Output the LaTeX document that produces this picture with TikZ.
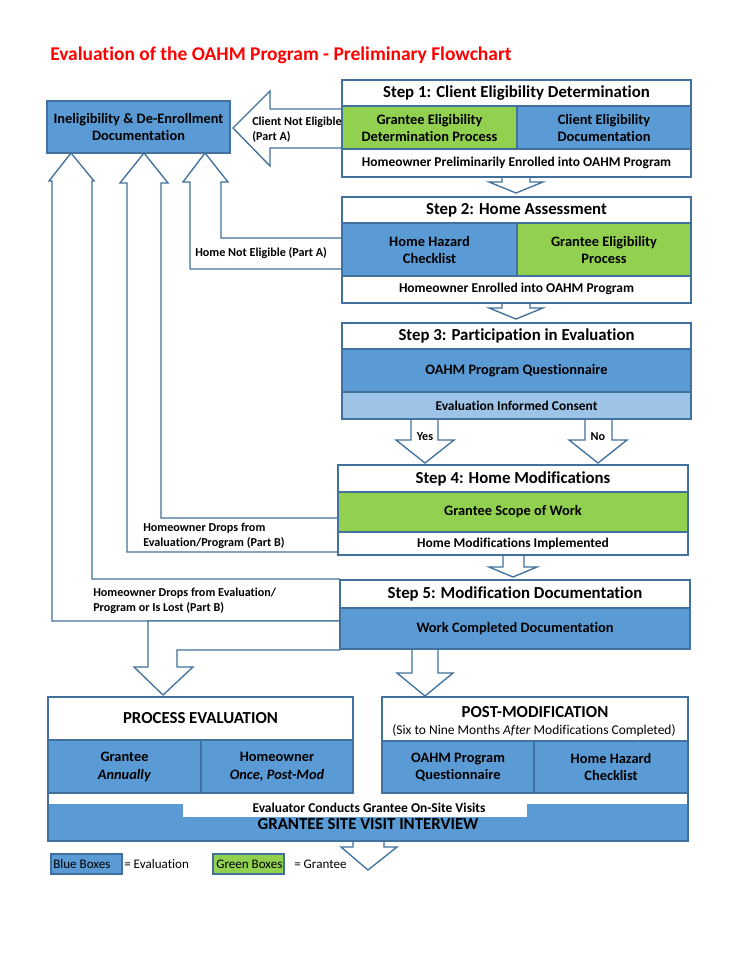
\documentclass[tikz,border=0pt]{standalone}
\usepackage{fontspec}
\setmainfont{Carlito}[Ligatures=NoCommon]
\definecolor{boxline}{HTML}{41719C}
\definecolor{evalblue}{HTML}{5B9BD5}
\definecolor{grantgreen}{HTML}{92D050}
\definecolor{paleblue}{HTML}{9DC3E6}
\definecolor{titlered}{HTML}{FF0000}
\begin{document}
\begin{tikzpicture}[x=0.75pt, y=-0.75pt,
  white box/.style={draw=boxline, fill=white, line width=1.1pt},
  blue box/.style={draw=boxline, fill=evalblue, line width=1.1pt},
  green box/.style={draw=boxline, fill=grantgreen, line width=1.1pt},
  pale box/.style={draw=boxline, fill=paleblue, line width=1.1pt},
  block arrow/.style={draw=boxline, fill=white, line width=1pt, line join=miter},
  step title/.style={font=\bfseries\fontsize{12.6}{15}\selectfont},
  cell/.style={font=\bfseries\fontsize{10.8}{13.2}\selectfont, align=center},
  small cell/.style={font=\bfseries\fontsize{10.1}{12}\selectfont},
  side label/.style={font=\bfseries\fontsize{9.1}{11.3}\selectfont, align=left, anchor=west, inner sep=0pt},
  legend text/.style={font=\fontsize{9.8}{12}\selectfont, anchor=west, inner sep=0pt}]
\fill [white] (0,0) rectangle (742,960);
\useasboundingbox (0,0) rectangle (742,960);

\node (title) at (50,55) [anchor=west, inner sep=0pt, text=titlered, font=\bfseries\fontsize{14.6}{17}\selectfont] {Evaluation of the OAHM Program - Preliminary Flowchart};

% arrows back to the ineligibility box
\draw [block arrow] (342,109) -- (270,109) -- (270,91) -- (233,128) -- (270,166) -- (270,148) -- (342,148);
\draw [block arrow] (342,238) -- (221,238) -- (221,182) -- (228,182) -- (205,153) -- (183,182) -- (190,182) -- (190,269) -- (342,269);
\draw [block arrow] (339,518) -- (161,518) -- (161,183) -- (168,183) -- (144,153) -- (120,183) -- (127,183) -- (127,552) -- (339,552);
\draw [block arrow] (340,579) -- (92,579) -- (92,181) -- (94,181) -- (71,153) -- (49,181) -- (52,181) -- (52,621) -- (340,621);

% arrows down the steps
\draw [block arrow] (502,177) -- (502,182) -- (489,182) -- (516,193) -- (543,182) -- (530,182) -- (530,177);
\draw [block arrow] (502,303) -- (502,308) -- (489,308) -- (516,319) -- (543,308) -- (530,308) -- (530,303);
\draw [block arrow] (411,419) -- (411,440) -- (396,440) -- (425,463) -- (454,440) -- (438,440) -- (438,419);
\draw [block arrow] (585,419) -- (585,440) -- (569,440) -- (598,463) -- (627,440) -- (612,440) -- (612,419);
\draw [block arrow] (503,555) -- (503,567) -- (489,567) -- (513,577) -- (537,567) -- (524,567) -- (524,555);
\draw [block arrow] (340,621) -- (148,621) -- (148,667) -- (134,667) -- (163,695) -- (193,667) -- (177,667) -- (177,650) -- (340,650);
\draw [block arrow] (412,649) -- (412,673) -- (397,673) -- (425,696) -- (453,673) -- (438,673) -- (438,649);
\draw [block arrow] (353,841) -- (353,847) -- (341,847) -- (368,870) -- (397,847) -- (384,847) -- (384,841);

% ineligibility
\draw [blue box] (47,101) rectangle (230,153);
\node (inelig) at (138.5,127) [cell] {Ineligibility \& De-Enrollment\\Documentation};

% step 1
\draw [white box] (342,80) rectangle (691,106);
\node (s1) at (516.5,93) [step title] {Step 1: Client Eligibility Determination};
\draw [green box] (342,106) rectangle (517,149);
\node (s1a) at (429.5,128) [cell] {Grantee Eligibility\\Determination Process};
\draw [blue box] (517,106) rectangle (691,149);
\node (s1b) at (604,128) [cell] {Client Eligibility\\Documentation};
\draw [white box] (342,149) rectangle (691,177);
\node (s1c) at (516.5,163) [small cell] {Homeowner Preliminarily Enrolled into OAHM Program};

% step 2
\draw [white box] (342,197) rectangle (691,223);
\node (s2) at (516.5,210) [step title] {Step 2: Home Assessment};
\draw [blue box] (342,223) rectangle (517,276);
\node (s2a) at (429.5,250) [cell] {Home Hazard\\Checklist};
\draw [green box] (517,223) rectangle (691,276);
\node (s2b) at (604,250) [cell] {Grantee Eligibility\\Process};
\draw [white box] (342,276) rectangle (691,303);
\node (s2c) at (516.5,289) [small cell] {Homeowner Enrolled into OAHM Program};

% step 3
\draw [white box] (342,323) rectangle (691,349);
\node (s3) at (516.5,336) [step title] {Step 3: Participation in Evaluation};
\draw [blue box] (342,349) rectangle (691,392);
\node (s3a) at (516.5,371) [cell] {OAHM Program Questionnaire};
\draw [pale box] (342,392) rectangle (691,419);
\node (s3b) at (516.5,406) [small cell] {Evaluation Informed Consent};

% step 4
\draw [white box] (338,465) rectangle (688,492);
\node (s4) at (513,478.5) [step title] {Step 4: Home Modifications};
\draw [green box] (338,492) rectangle (688,532);
\node (s4a) at (513,512) [cell] {Grantee Scope of Work};
\draw [white box] (338,532) rectangle (688,555);
\node (s4b) at (513,543.5) [small cell] {Home Modifications Implemented};

% step 5
\draw [white box] (340,580) rectangle (690,608);
\node (s5) at (515,594) [step title] {Step 5: Modification Documentation};
\draw [blue box] (340,608) rectangle (690,649);
\node (s5a) at (515,629) [cell] {Work Completed Documentation};

% site visit interview
\fill [evalblue] (48,804) rectangle (688,841);
\fill [white] (183,804) rectangle (527,817);
\draw [boxline, line width=1.1pt] (48,793) -- (48,841) -- (688,841) -- (688,793);
\node (visits) at (369,808) [small cell] {Evaluator Conducts Grantee On-Site Visits};
\node (interview) at (368,824) [step title] {GRANTEE SITE VISIT INTERVIEW};

% process evaluation
\draw [white box] (48,697) rectangle (353,740);
\node (proc) at (200.5,718.5) [step title] {PROCESS EVALUATION};
\draw [blue box] (48,740) rectangle (201,793);
\node (proca) at (124.5,767) [cell] {Grantee\\\textit{Annually}};
\draw [blue box] (201,740) rectangle (353,793);
\node (procb) at (277,767) [cell] {Homeowner\\\textit{Once, Post-Mod}};

% post-modification
\draw [white box] (382,697) rectangle (688,741);
\node (post) at (535,712) [step title] {POST-MODIFICATION};
\node (postsub) at (534,731) [font=\fontsize{10.1}{12}\selectfont] {(Six to Nine Months \textit{After} Modifications Completed)};
\draw [blue box] (382,741) rectangle (534,793);
\node (posta) at (458,767) [cell] {OAHM Program\\Questionnaire};
\draw [blue box] (534,741) rectangle (688,793);
\node (postb) at (611,767) [cell] {Home Hazard\\Checklist};

% labels on the arrows
\node (notclient) at (252,129.5) [side label] {Client Not Eligible\\(Part A)};
\node (nothome) at (195,253) [side label] {Home Not Eligible (Part A)};
\node (drop4) at (143,535.5) [side label] {Homeowner Drops from\\Evaluation/Program (Part B)};
\node (drop5) at (93,601) [side label] {Homeowner Drops from Evaluation/\\Program or Is Lost (Part B)};
\node (yes) at (425,437) [side label, anchor=center] {Yes};
\node (no) at (598,437) [side label, anchor=center] {No};

% legend
\draw [blue box, line width=0.8pt] (51,854) rectangle (122,874);
\node (lblue) at (53,864) [legend text] {Blue Boxes};
\node (lblueeq) at (124,864) [legend text] {= Evaluation};
\draw [green box, line width=0.8pt] (213,854) rectangle (284,874);
\node (lgreen) at (216,864) [legend text] {Green Boxes};
\node (lgreeneq) at (294,864) [legend text] {= Grantee};
\end{tikzpicture}
\end{document}
